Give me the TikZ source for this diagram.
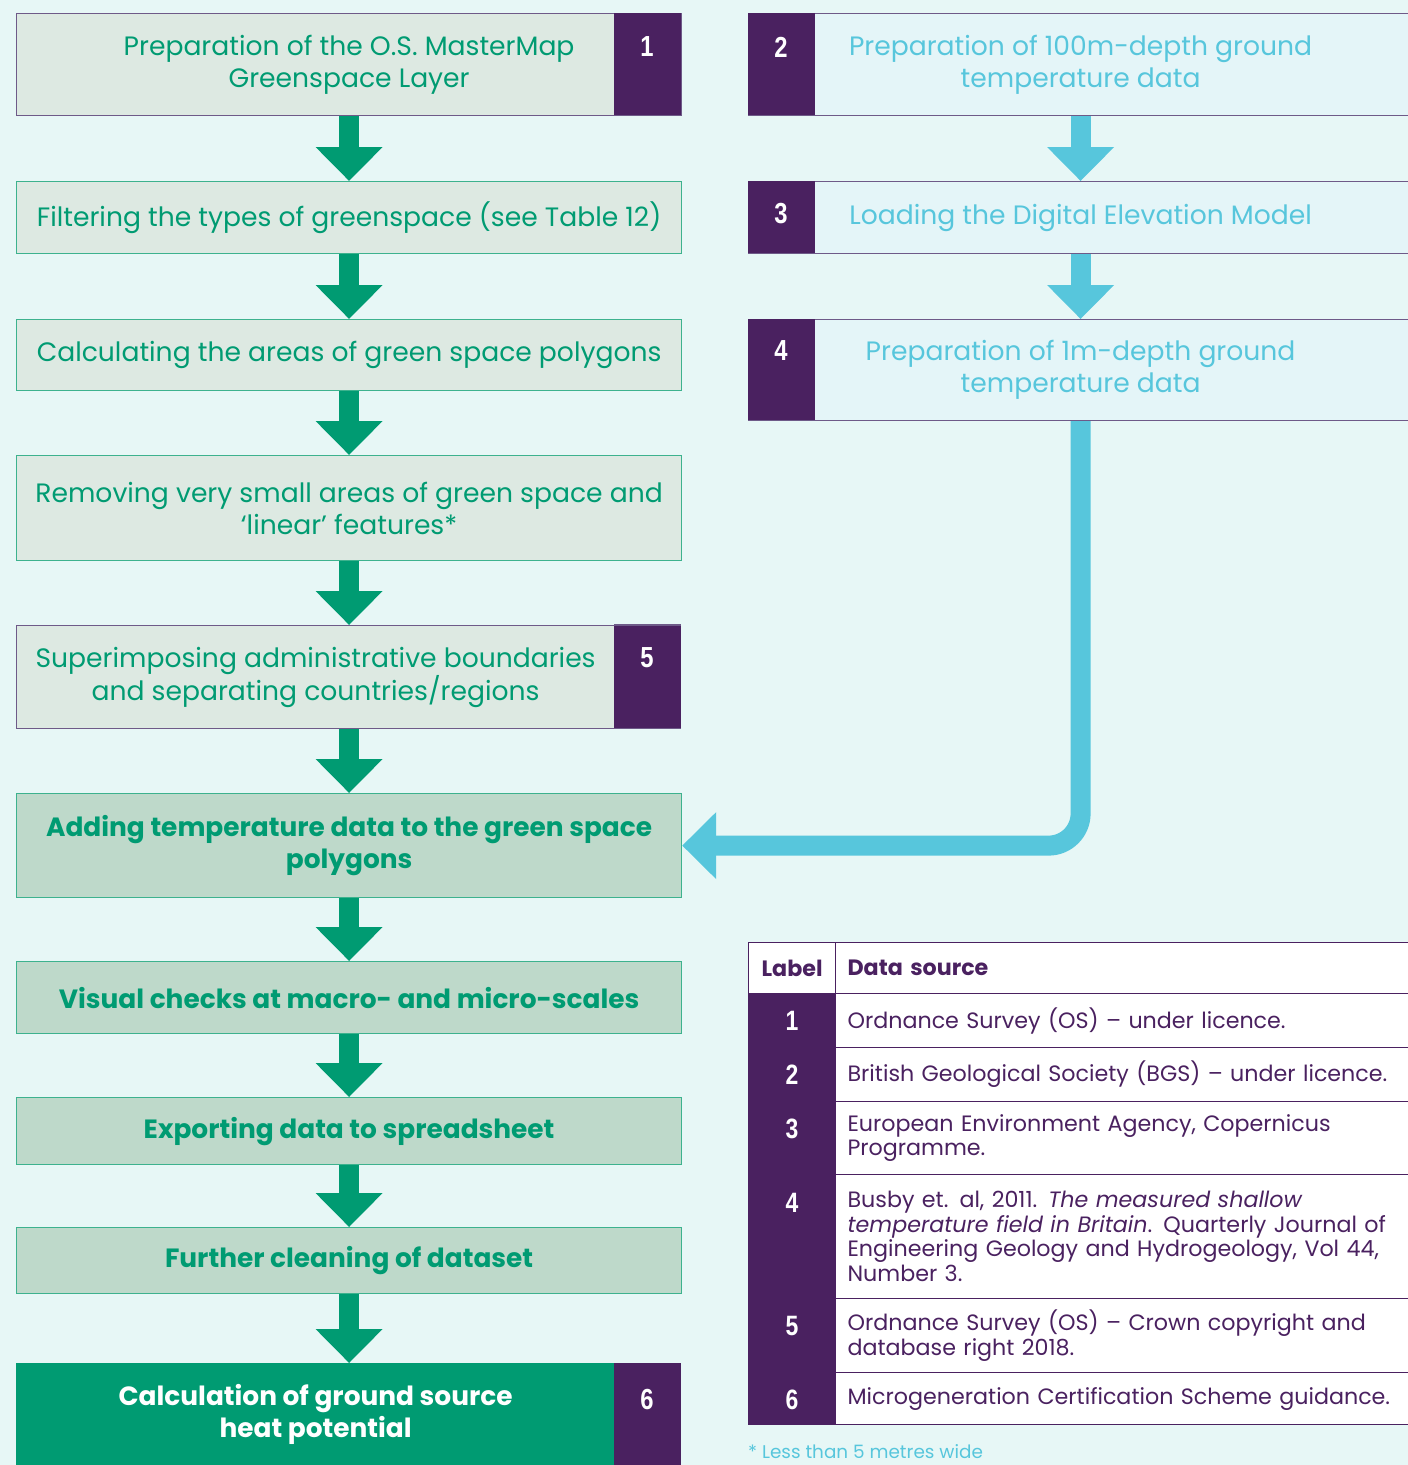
\documentclass[tikz,border=0pt]{standalone}
\usepackage{fontspec}
\setmainfont{Poppins}
\newfontfamily\numfont[FakeStretch=0.82]{Liberation Sans}
\usetikzlibrary{arrows.meta}
\definecolor{bgc}{HTML}{E7F7F6}
\definecolor{grn}{HTML}{009B72}
\definecolor{grnline}{HTML}{3DB28E}
\definecolor{pale}{HTML}{DDE9E2}
\definecolor{mid}{HTML}{BED9CA}
\definecolor{pur}{HTML}{4A2160}
\definecolor{purline}{HTML}{6E5A88}
\definecolor{cyn}{HTML}{57C6DC}
\definecolor{paleblue}{HTML}{E4F5F8}
\tikzset{
  lbox/.style={draw=grnline, fill=pale, line width=1.2pt, inner sep=0pt, text=grn,
    font=\fontsize{26.6}{32}\selectfont, align=center, anchor=north west},
  bbox/.style={lbox, fill=mid, font=\bfseries\fontsize{26.4}{32}\selectfont},
  rbox/.style={draw=purline, fill=paleblue, line width=1.2pt, inner sep=0pt, text=cyn,
    font=\fontsize{26.6}{32}\selectfont, align=center, anchor=north west},
  tabbox/.style={fill=pur, draw=none, inner sep=0pt, anchor=north west},
  numlab/.style={text=white, font=\numfont\bfseries\fontsize{29}{30}\selectfont},
  garrow/.style={draw=grn, line width=20pt, -{Triangle[width=65pt,length=34pt]}},
  carrow/.style={draw=cyn, line width=20pt, -{Triangle[width=65pt,length=34pt]}},
  cell/.style={draw=pur, fill=white, line width=1.2pt, inner ysep=0pt, inner xsep=12pt,
    anchor=north west, text=pur, align=left, text width=553pt,
    font=\fontsize{22.2}{24.5}\selectfont},
  tnum/.style={text=white, font=\numfont\bfseries\fontsize{28}{30}\selectfont}
}
\begin{document}
\begin{tikzpicture}[x=1pt,y=-1pt]
\useasboundingbox (0,0) rectangle (1408,1465);
\clip (0,0) rectangle (1408,1465);
\fill[bgc] (0,0) rectangle (1408,1465);

% ---------- left column ----------
\node[lbox, draw=purline, minimum width=665pt, minimum height=102pt] (b1) at (16,13)
  {Preparation of the O.S. MasterMap\\Greenspace Layer};
\node[tabbox, minimum width=67pt, minimum height=102pt] (t1) at (614,13) {};
\node[numlab] (n1) at (647,47) {1};

\node[lbox, minimum width=665pt, minimum height=72pt] (b2) at (16,181)
  {Filtering the types of greenspace (see Table 12)};
\node[lbox, minimum width=665pt, minimum height=71pt] (b3) at (16,319)
  {Calculating the areas of green space polygons};
\node[lbox, minimum width=665pt, minimum height=105pt] (b4) at (16,455)
  {Removing very small areas of green space and\\‘linear’ features*};
\node[lbox, draw=purline, minimum width=598pt, minimum height=103pt] (b5) at (16,625)
  {Superimposing administrative boundaries\\and separating countries/regions};
\node[tabbox, minimum width=67pt, minimum height=103pt] (t5) at (614,625) {};
\draw[purline, line width=1.2pt] (t5.north west) -- (t5.north east);
\draw[purline, line width=1.2pt] (t5.south west) -- (t5.south east);
\node[numlab] (n5) at (647,658) {5};

\node[bbox, minimum width=665pt, minimum height=104pt] (b6) at (16,793)
  {Adding temperature data to the green space\\polygons};
\node[bbox, minimum width=665pt, minimum height=72pt] (b7) at (16,961)
  {Visual checks at macro- and micro-scales};
\node[bbox, minimum width=665pt, minimum height=67pt] (b8) at (16,1097)
  {Exporting data to spreadsheet};
\node[bbox, minimum width=665pt, minimum height=66pt] (b9) at (16,1227)
  {Further cleaning of dataset};
\node[bbox, draw=grn, fill=grn, text=white, minimum width=598pt, minimum height=102pt] (b10) at (16,1363)
  {Calculation of ground source\\heat potential};
\node[tabbox, minimum width=67pt, minimum height=110pt] (t10) at (614,1363) {};
\node[numlab] (n6) at (647,1399) {6};

\draw[garrow] (b1.south) -- (b2.north);
\draw[garrow] (b2.south) -- (b3.north);
\draw[garrow] (b3.south) -- (b4.north);
\draw[garrow] (b4.south) -- (b4.south |- b5.north);
\draw[garrow] (b5.south -| b6.north) -- (b6.north);
\draw[garrow] (b6.south) -- (b7.north);
\draw[garrow] (b7.south) -- (b8.north);
\draw[garrow] (b8.south) -- (b9.north);
\draw[garrow] (b9.south) -- (b9.south |- b10.north);

% ---------- right column ----------
\node[rbox, minimum width=664pt, minimum height=102pt] (r2) at (748,13)
  {Preparation of 100m-depth ground\\temperature data};
\node[tabbox, minimum width=67pt, minimum height=102pt] (t2) at (748,13) {};
\node[numlab] (n2) at (781,47) {2};
\node[rbox, minimum width=664pt, minimum height=72pt] (r3) at (748,181)
  {Loading the Digital Elevation Model};
\node[tabbox, minimum width=67pt, minimum height=72pt] (t3) at (748,181) {};
\node[numlab] (n3) at (781,214) {3};
\node[rbox, minimum width=664pt, minimum height=101pt] (r4) at (748,319)
  {Preparation of 1m-depth ground\\temperature data};
\node[tabbox, minimum width=67pt, minimum height=101pt] (t4) at (748,319) {};
\node[numlab] (n4) at (781,351) {4};

\draw[carrow] (r2.south) -- (r3.north);
\draw[carrow] (r3.south) -- (r4.north);
\draw[carrow, rounded corners=32pt] (r4.south) |- (b6.east);

% ---------- table ----------
\node[draw=pur, fill=white, line width=1.2pt, anchor=north west, minimum width=87pt, minimum height=51pt,
  inner sep=0pt, text=pur, font=\bfseries\fontsize{22.2}{24}\selectfont] (hL) at (748,942) {Label};
\node[cell, minimum height=51pt, font=\bfseries\fontsize{22.2}{24}\selectfont] (hD) at (835,942) {Data source};
\node[tabbox, draw=pur, line width=1.2pt, minimum width=87pt, minimum height=431pt] (lab) at (748,993) {};
\node[cell, minimum height=54pt] (c1) at (835,993) {Ordnance Survey (OS) – under licence.};
\node[cell, minimum height=54pt] (c2) at (835,1047) {British Geological Society (BGS) – under licence.};
\node[cell, minimum height=73pt] (c3) at (835,1101) {European Environment Agency, Copernicus\\Programme.};
\node[cell, minimum height=124pt] (c4) at (835,1174) {Busby et. al, 2011. \textit{The measured shallow}\\\textit{temperature field in Britain}. Quarterly Journal of\\Engineering Geology and Hydrogeology, Vol 44,\\Number 3.};
\node[cell, minimum height=74pt] (c5) at (835,1298) {Ordnance Survey (OS) – Crown copyright and\\database right 2018.};
\node[cell, minimum height=52pt] (c6) at (835,1372) {Microgeneration Certification Scheme guidance.};
\node[tnum] (m1) at (792,1021) {1};
\node[tnum] (m2) at (792,1075) {2};
\node[tnum] (m3) at (792,1129) {3};
\node[tnum] (m4) at (792,1203) {4};
\node[tnum] (m5) at (792,1326) {5};
\node[tnum] (m6) at (792,1400) {6};

\node[anchor=west, inner sep=0pt, text=cyn, font=\fontsize{18.4}{20}\selectfont] (fn) at (748,1452) {* Less than 5 metres wide};
\end{tikzpicture}
\end{document}
